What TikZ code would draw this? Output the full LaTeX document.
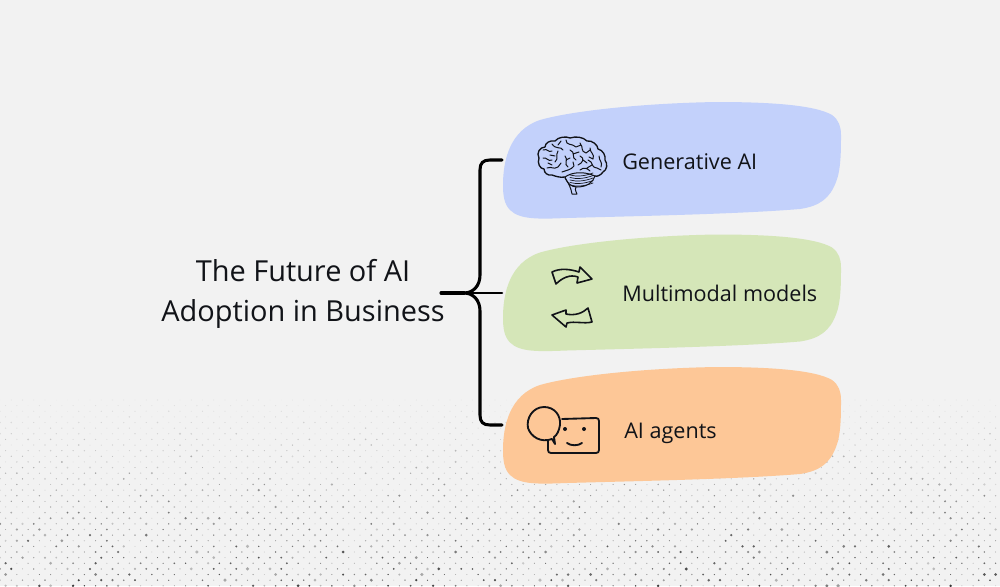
\documentclass[tikz,border=0pt]{standalone}
\usepackage{fontspec}
\setmainfont{Open Sans}
\definecolor{bgc}{HTML}{F2F2F2}
\definecolor{ink}{HTML}{111318}
\definecolor{blueblob}{HTML}{C3D1FB}
\definecolor{greenblob}{HTML}{D5E6B8}
\definecolor{orangeblob}{HTML}{FDC797}
\newcommand{\blobshape}{(503,185) .. controls (503,160) and (510,130) .. (540,120) .. controls (575,110) and (650,103) .. (717,102) .. controls (770,102) and (815,105) .. (832,115) .. controls (839,120) and (841,127) .. (841,135) .. controls (841,150) and (841,170) .. (836,182) .. controls (830,198) and (820,206) .. (800,209) .. controls (740,214) and (640,216) .. (567,218) .. controls (540,219) and (520,220) .. (510,210) .. controls (504,204) and (503,195) .. (503,185) -- cycle}
\tikzset{
  blobfill/.style={draw=none},
  bracket/.style={draw=black,line width=2.3pt,line cap=round,line join=round},
  titletext/.style={font=\fontsize{21.7}{30}\selectfont,text=ink,align=center,inner sep=0pt},
  itemtext/.style={font=\fontsize{16.2}{20}\selectfont,text=ink,anchor=west,inner sep=0pt},
  iconline/.style={draw=ink,line width=1.2pt,line join=round,line cap=round},
  brainline/.style={draw=ink,line width=.75pt,line cap=round,line join=round},
  agentline/.style={draw=ink,line width=1.4pt,line join=round,line cap=round}
}
\begin{document}
\begin{tikzpicture}[x=0.75pt,y=-0.75pt]
\useasboundingbox (0,0) rectangle (1000,586);
\fill[bgc] (0,0) rectangle (1000,586);
% dotted floor
\pgfmathsetseed{7}
\foreach \r in {0,...,33}{
  \foreach \c in {0,...,89}{
    \pgfmathsetmacro{\px}{11.25*\c+5.62*mod(\r,2)}
    \pgfmathsetmacro{\py}{400+5.63*\r}
    \pgfmathsetmacro{\tt}{\r/33}
    \pgfmathsetmacro{\rad}{0.5+(0.3+0.7*\tt)*1.4*rnd*rnd}
    \pgfmathsetmacro{\op}{(0.05+0.55*\tt)*(0.3+1.0*rnd)}
    \fill[black,opacity=\op] (\px,\py) circle[radius=\rad];
  }
}
% blobs
\fill[blueblob,blobfill] \blobshape;
\fill[greenblob,blobfill,shift={(0,132.5)}] \blobshape;
\fill[orangeblob,blobfill,shift={(0,265)}] \blobshape;
% texts
\node[titletext] (title) at (303,293.5) {The Future of AI\\Adoption in Business};
\node[itemtext] (gen) at (622,162) {Generative AI};
\node[itemtext] (multi) at (622,293) {Multimodal models};
\node[itemtext] (agents) at (624,433) {AI agents};
% bracket
\coordinate (root) at (441,293);
\coordinate (fork) at (464,293);
\coordinate (endA) at (502,160);
\coordinate (endB) at (502,293);
\coordinate (endC) at (502,425);
\draw[bracket] (root) -- (fork);
\draw[bracket,line width=1.9pt] (fork) -- (endB);
\draw[bracket] (endA) -- (490,160) .. controls (483,160) and (480,163) .. (480,170) -- (480,275) .. controls (480,286) and (473,293) .. (fork);
\draw[bracket] (endC) -- (490,425) .. controls (483,425) and (480,422) .. (480,415) -- (480,311) .. controls (480,300) and (473,293) .. (fork);
% brain
\draw[brainline,line width=1pt] (565,177) .. controls (560,178) and (555,176) .. (552,175) .. controls (548,176) and (544,173) .. (544,169) .. controls (540,169) and (537,163) .. (539,158) .. controls (536,153) and (540,147) .. (545,147) .. controls (545,143) and (550,140) .. (555,141) .. controls (558,137) and (566,136) .. (570,138) .. controls (576,136) and (583,137) .. (587,141) .. controls (592,140) and (598,145) .. (598,149) .. controls (603,150) and (606,156) .. (605,160) .. controls (608,164) and (607,170) .. (603,172) .. controls (601,175) and (597,177) .. (595,176);
\draw[brainline] (565,177) .. controls (572,172) and (584,171) .. (595,176) .. controls (593,183) and (586,187) .. (577,187) .. controls (571,187) and (567,183) .. (565,177);
\foreach \yy in {175,177.5,180,182.5,185}{\draw[brainline,line width=.5pt] (570,\yy) .. controls (577,\yy+2) and (585,\yy+1) .. (593,\yy-2);}
\draw[brainline] (565,178) .. controls (569,184) and (571,188) .. (572,194) -- (577,194) .. controls (575,190) and (575,188) .. (576,187);
\draw[brainline] (543,150) .. controls (548,148) and (548,153) .. (552,151) (552,144) .. controls (556,150) and (561,146) .. (563,150) (558,151) .. controls (555,156) and (559,158) .. (555,162) (555,156) -- (550,155) (543,158) .. controls (547,157) and (548,162) .. (552,160) (547,168) .. controls (552,166) and (553,170) .. (558,167) (558,167) -- (561,163) (566,140) .. controls (566,146) and (572,143) .. (576,147) (576,147) -- (581,145) (570,150) .. controls (576,152) and (571,158) .. (576,160) (573,154) -- (579,152) (565,156) .. controls (569,160) and (563,164) .. (568,167) (566,160) -- (570,158) (562,172) .. controls (567,170) and (571,170) .. (574,166) (574,166) -- (573,162) (580,143) .. controls (584,148) and (580,151) .. (586,153) (586,153) -- (590,150) (580,156) .. controls (585,158) and (583,163) .. (578,165) (583,160) -- (587,163) (590,148) .. controls (590,153) and (595,154) .. (593,159) (593,159) -- (589,157) (588,160) .. controls (594,162) and (590,167) .. (597,168) (592,165) -- (587,168) (599,156) .. controls (599,161) and (603,162) .. (601,167) (580,170) .. controls (584,167) and (587,168) .. (590,171) (561,141) -- (558,145) (548,163) -- (552,165) (597,168) -- (601,170);
% arrows
\draw[iconline] (552,272) .. controls (560,268) and (570,269) .. (579,272) -- (580,267) -- (592,279) -- (577,283) -- (578,277) .. controls (570,274) and (562,278) .. (556,284) -- cycle;
\draw[iconline] (552,315) -- (566,310) -- (566,314) .. controls (575,316) and (583,313) .. (588,308) -- (592,322) .. controls (584,324) and (575,321) .. (567,323) -- (566,327) -- cycle;
% agent icon
\draw[agentline] (562,419) -- (596,418) .. controls (598,418) and (599,419) .. (599,421) -- (599,450) .. controls (599,452) and (598,453) .. (596,453) -- (551,453) .. controls (549,453) and (548,452) .. (548,450) -- (548,441);
\draw[agentline] (555,444) -- (552,439) .. controls (541,443) and (531,437) .. (528,428) .. controls (526,418) and (533,407) .. (544,407) .. controls (555,407) and (561,416) .. (560,425) .. controls (559,431) and (557,435) .. (554,437) -- (555,444);
\fill[ink] (565,429) circle[radius=2];
\fill[ink] (584,429) circle[radius=2];
\draw[agentline] (567,443) .. controls (571,446) and (578,446) .. (582,443);
\end{tikzpicture}
\end{document}
